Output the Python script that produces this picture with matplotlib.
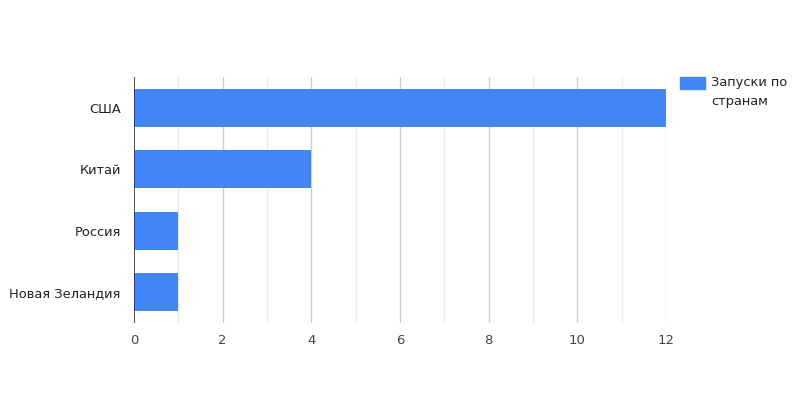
import matplotlib
matplotlib.use("Agg")
import matplotlib.pyplot as plt
from matplotlib.patches import Rectangle

countries = ["США", "Китай", "Россия", "Новая Зеландия"]
launches = [12, 4, 1, 1]
series_name = "Запуски по\nстранам"
x_ticks = [0, 2, 4, 6, 8, 10, 12]

plt.rcParams['font.family'] = ['DejaVu Sans']

fig = plt.figure(figsize=(8, 4), dpi=100)
ax = fig.add_axes([134 / 800, 77 / 400, 532 / 800, 246 / 400])

# gridlines: minor lighter, major darker
for v in range(1, 13, 2):
    ax.axvline(v, color="#ebebeb", lw=1, zorder=0)
for v in x_ticks[1:]:
    ax.axvline(v, color="#cccccc", lw=1, zorder=0)

ax.barh(range(len(countries)), launches, height=0.62, color="#4285f4", zorder=2)
ax.axvline(0, color="#333333", lw=1.2, zorder=3)

ax.set_xlim(0, 12)
ax.set_ylim(len(countries) - 0.5, -0.5)
ax.set_yticks(range(len(countries)))
ax.set_yticklabels(countries, color="#222222", fontsize=9.4)
ax.set_xticks(x_ticks)
ax.set_xticklabels([str(t) for t in x_ticks], color="#444444", fontsize=9.5)
ax.tick_params(length=0)
ax.tick_params(axis="x", pad=8)
ax.tick_params(axis="y", pad=9.5)
for s in ax.spines.values():
    s.set_visible(False)

# legend
fig.patches.append(Rectangle((680 / 800, 1 - 89 / 400), 25 / 800, 12 / 400,
                             transform=fig.transFigure, color="#4285f4"))
fig.text(711 / 800, 1 - 76 / 400, series_name, fontsize=9.4, color="#222222",
         va="top", ha="left", linespacing=1.55)

fig.savefig("out.png", dpi=100)
